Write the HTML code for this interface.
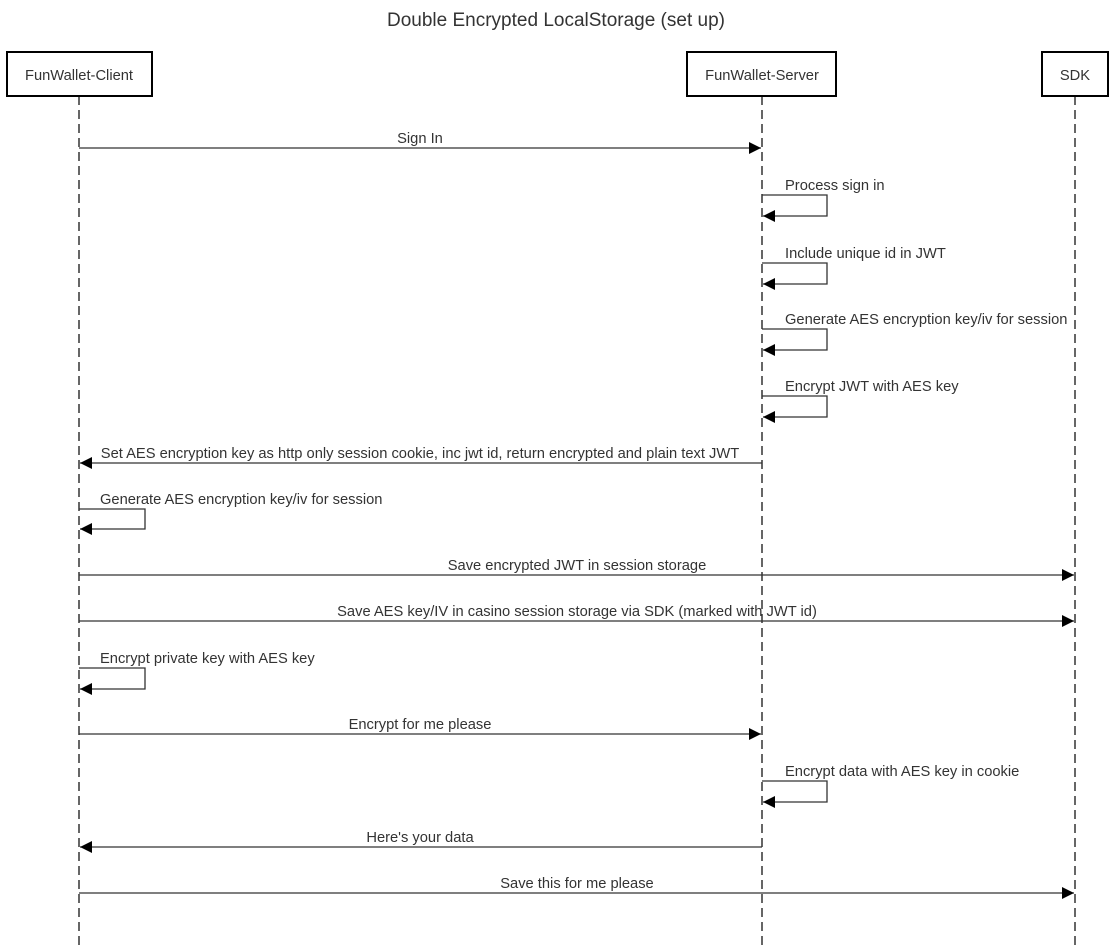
<!DOCTYPE html>
<html><head><meta charset="utf-8"><style>body{margin:0;background:#fff}svg{display:block}text{font-family:"Liberation Sans",Arial,sans-serif;fill:#333}</style></head>
<body>
<svg width="1116" height="946" viewBox="0 0 1116 946" xmlns="http://www.w3.org/2000/svg">
<defs><marker id="a" viewBox="0 0 12 12" refX="12" refY="6" markerWidth="12" markerHeight="12" markerUnits="userSpaceOnUse" orient="auto"><path d="M0,0L12,6L0,12z" fill="#000"/></marker></defs>
<text x="556" y="26" font-size="19" text-anchor="middle">Double Encrypted LocalStorage (set up)</text>
<g stroke="#333" stroke-width="1.5" stroke-dasharray="9,5" fill="none">
<line x1="79" y1="96" x2="79" y2="946"/><line x1="762" y1="96" x2="762" y2="946"/><line x1="1075" y1="96" x2="1075" y2="946"/>
</g>
<g stroke="#000" stroke-width="2" fill="#fff">
<rect x="7" y="52" width="145" height="44"/><rect x="687" y="52" width="149" height="44"/><rect x="1042" y="52" width="66" height="44"/>
</g>
<g font-size="14.7" text-anchor="middle">
<text x="79" y="80">FunWallet-Client</text><text x="762" y="80">FunWallet-Server</text><text x="1075" y="80">SDK</text>
</g>
<g stroke="#333" stroke-width="1.3" fill="none" marker-end="url(#a)">
<line x1="79" y1="148" x2="761" y2="148"/>
<path d="M762,195H827V216H763"/>
<path d="M762,263H827V284H763"/>
<path d="M762,329H827V350H763"/>
<path d="M762,396H827V417H763"/>
<line x1="762" y1="463" x2="80" y2="463"/>
<path d="M79,509H145V529H80"/>
<line x1="79" y1="575" x2="1074" y2="575"/>
<line x1="79" y1="621" x2="1074" y2="621"/>
<path d="M79,668H145V689H80"/>
<line x1="79" y1="734" x2="761" y2="734"/>
<path d="M762,781H827V802H763"/>
<line x1="762" y1="847" x2="80" y2="847"/>
<line x1="79" y1="893" x2="1074" y2="893"/>
</g>
<g font-size="14.7">
<text x="420" y="143" text-anchor="middle">Sign In</text>
<text x="785" y="190">Process sign in</text>
<text x="785" y="258">Include unique id in JWT</text>
<text x="785" y="324">Generate AES encryption key/iv for session</text>
<text x="785" y="391">Encrypt JWT with AES key</text>
<text x="420" y="458" text-anchor="middle">Set AES encryption key as http only session cookie, inc jwt id, return encrypted and plain text JWT</text>
<text x="100" y="504">Generate AES encryption key/iv for session</text>
<text x="577" y="570" text-anchor="middle">Save encrypted JWT in session storage</text>
<text x="577" y="616" text-anchor="middle">Save AES key/IV in casino session storage via SDK (marked with JWT id)</text>
<text x="100" y="663">Encrypt private key with AES key</text>
<text x="420" y="729" text-anchor="middle">Encrypt for me please</text>
<text x="785" y="776">Encrypt data with AES key in cookie</text>
<text x="420" y="842" text-anchor="middle">Here's your data</text>
<text x="577" y="888" text-anchor="middle">Save this for me please</text>
</g>
</svg>
</body></html>
